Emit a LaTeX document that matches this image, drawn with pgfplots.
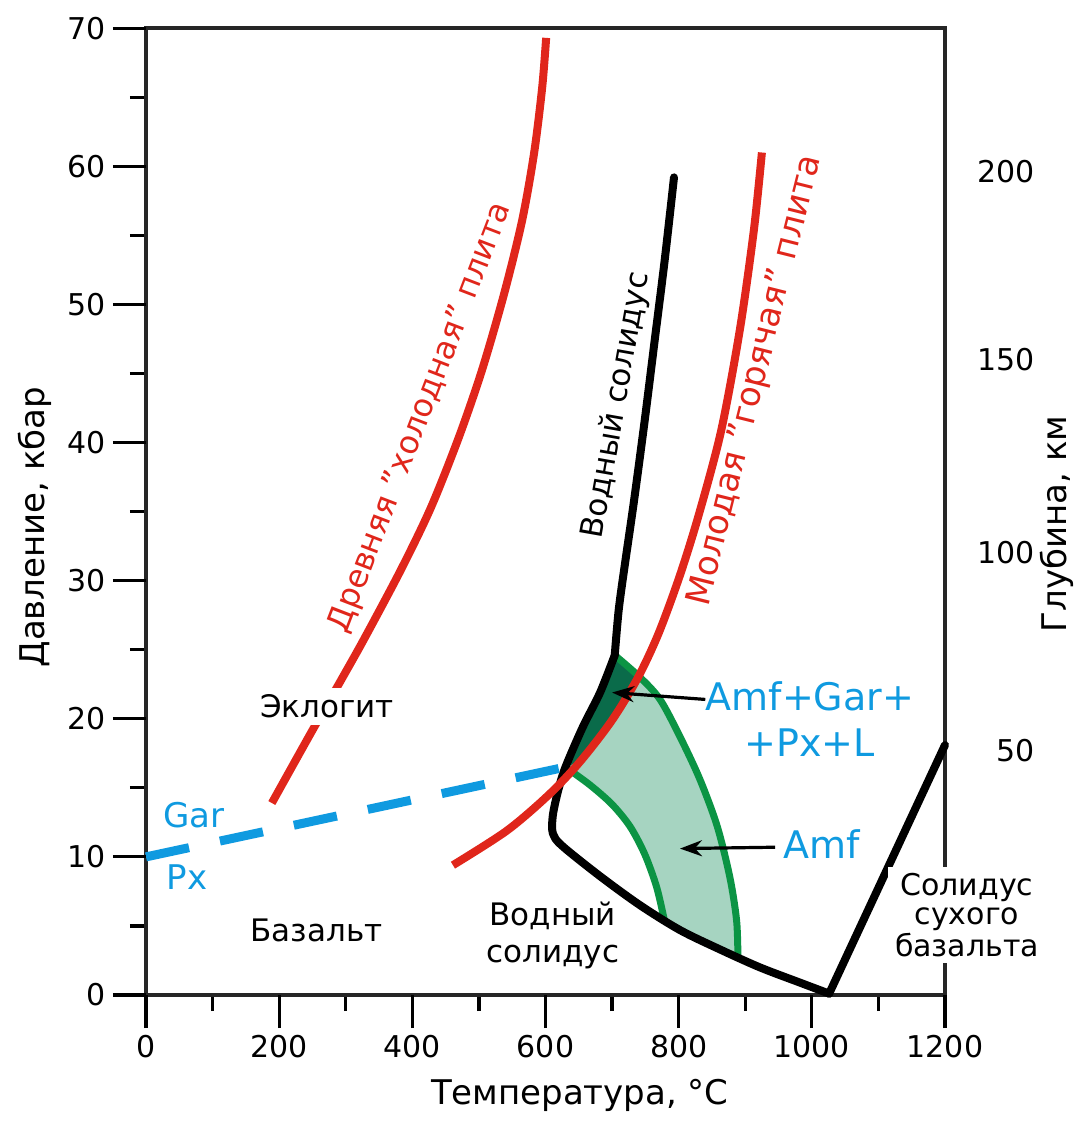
\documentclass[border=0pt]{standalone}
\usepackage{fontspec}
\setmainfont{DejaVu Sans}
\usepackage{pgfplots}
\pgfplotsset{compat=1.18}
\usetikzlibrary{arrows.meta}

\definecolor{plate}{HTML}{E0261B}
\definecolor{phase}{HTML}{0F9AE0}
\definecolor{amfline}{HTML}{0B9444}
\definecolor{amfdark}{HTML}{0A6B4A}
\definecolor{amflight}{HTML}{A6D4C1}

\newcommand{\txt}{\fontsize{15.5}{18.5}\selectfont}

\begin{document}
\begin{tikzpicture}
\useasboundingbox (-73pt,-65.5pt) rectangle (467pt,497.5pt);
\begin{axis}[
  at={(0pt,0pt)}, anchor=south west,
  scale only axis, width=399.5pt, height=483.4pt,
  xmin=0, xmax=1200, ymin=0, ymax=70,
  xtick={0,200,400,600,800,1000,1200}, ytick={0,10,20,30,40,50,60,70},
  minor x tick num=1, minor y tick num=1,
  tick pos=left, tick align=outside,
  major tick length=16.5pt, minor tick length=8pt,
  major tick style={black, line width=1.6pt},
  minor tick style={black, line width=1.6pt},
  axis line style={line width=1.8pt, black!85},
  tick label style={font=\fontsize{15}{18}\selectfont},
  /pgf/number format/assume math mode=true,
  /pgf/number format/1000 sep={},
  clip=false,
  xlabel={Температура, °C},
  ylabel={Давление, кбар},
  label style={font=\fontsize{17}{20}\selectfont},
  xlabel style={at={(axis description cs:0.543,-0.1034)}, anchor=center},
  ylabel style={at={(axis description cs:-0.139,0.484)}, anchor=center},
]

% amphibole field: light part
\addplot[draw=none, fill=amflight] coordinates {
  (630,16.5) (652,16.9) (700,19.9) (739,23.0) (772,21.4) (802,18.7)
  (832,15.6) (858,12.2) (877,8.5) (887,5.4) (889,2.8) (862,3.3)
  (802,4.7) (779,5.3) (767,7.8) (749,10.2) (727,12.2) (700,13.8) (667,15.2)
} -- cycle;
% amphibole + garnet + pyroxene + melt
\addplot[draw=none, fill=amfdark] coordinates {
  (704,24.6) (682,21.9) (656,19.4) (630,16.5) (652,16.9) (700,19.9) (739,23.0)
} -- cycle;

% amphibole boundaries
\addplot[amfline, line width=3.5pt, smooth] coordinates {
  (704,24.6) (742,23.0) (772,21.4) (802,18.7) (832,15.6) (858,12.2)
  (877,8.5) (887,5.4) (889,2.8)
};
\addplot[amfline, line width=3.5pt, smooth] coordinates {
  (630,16.5) (667,15.2) (700,13.8) (727,12.2) (749,10.2) (767,7.8) (779,5.3)
};

% wet solidus
\addplot[black, line width=4pt, smooth, line cap=round] coordinates {
  (793,59.2) (779,53.2) (764,47.4) (749,41.6) (733,35.8) (719,31.1)
  (710,27.9) (704,24.6)
};
\addplot[black, line width=4pt, smooth, line cap=round, line join=round] coordinates {
  (704,24.6) (682,21.9) (656,19.4) (630,16.5) (619,14.8) (611,13.0)
  (611,11.7) (625,10.8) (682,8.6) (742,6.5) (802,4.7) (862,3.3)
  (922,2.0) (982,0.9) (1026,0.1)
};
% dry basalt solidus
\addplot[black, line width=4pt, line cap=round] coordinates {
  (1026,0.1) (1200,18.1)
};

% garnet-in reaction
\addplot[phase, line width=4.5pt, dash pattern=on 22pt off 15.8pt] coordinates {
  (0,10) (630,16.5)
};

% slab geotherms
\addplot[plate, line width=4pt, smooth] coordinates {
  (189,13.9) (248,19.0) (293,22.8) (329,25.9) (383,30.8) (428,35.3)
  (470,40.4) (505,45.3) (538,50.8) (565,56.1) (583,61.0) (595,65.7) (601,69.3)
};
\addplot[plate, line width=4pt, smooth] coordinates {
  (461,9.4) (542,11.9) (605,14.5) (652,16.9) (700,19.9) (739,23.0)
  (770,26.2) (802,30.4) (831,34.9) (864,40.9) (892,48.2) (913,55.4) (925,61.0)
};

% long outward marks at the labelled values (16.5pt below / left of the frame)
\pgfplotsinvokeforeach{0,200,400,600,800,1000,1200}{
  \addplot[black, line width=1.6pt, forget plot] coordinates {(#1,0) (#1,-2.389)};
}
\pgfplotsinvokeforeach{0,10,20,30,40,50,60,70}{
  \addplot[black, line width=1.6pt, forget plot] coordinates {(0,#1) (-49.56,#1)};
}

% annotations
\node[font=\txt, fill=white] at (axis cs:272,20.9) {Эклогит};
\node[font=\txt] at (axis cs:256,4.7) {Базальт};
\node[font=\txt, align=center] at (axis cs:611,4.3) {Водный\\солидус};
\node[font=\txt, rotate=80] at (axis cs:707,42.7) {Водный солидус};
\node[font=\fontsize{16}{19}\selectfont, text=plate, rotate=69]
  at (axis cs:413,41.8) {Древняя "холодная" плита};
\node[font=\fontsize{17}{20}\selectfont, text=plate, rotate=76]
  at (axis cs:916,44.5) {Молодая "горячая" плита};
\node[font=\fontsize{17}{20}\selectfont, text=phase] at (axis cs:72,13.0) {Gar};
\node[font=\fontsize{17}{20}\selectfont, text=phase] at (axis cs:62,8.5) {Px};
\node[font=\fontsize{19}{23}\selectfont, text=phase, align=center]
  at (axis cs:997,20.0) {Amf+Gar+\\+Px+L};
\node[font=\fontsize{19}{22}\selectfont, text=phase] at (axis cs:1015,10.9) {Amf};
\draw[-{Stealth[length=11pt,width=8pt]}, line width=1.6pt]
  (axis cs:840,21.4) -- (axis cs:700,21.9);
\draw[-{Stealth[length=11pt,width=8pt]}, line width=1.6pt]
  (axis cs:945,10.7) -- (axis cs:802,10.6);
\node[font=\fontsize{17}{20}\selectfont, rotate=90] at (axis cs:1368,34.1) {Глубина, км};
\coordinate (dry) at (axis cs:1233,5.8);
\end{axis}

% depth scale
\begin{axis}[
  at={(0pt,0pt)}, anchor=south west,
  scale only axis, width=399.5pt, height=483.4pt,
  xmin=0, xmax=1200, ymin=0, ymax=70,
  hide x axis, axis y line*=right,
  y axis line style={draw=none},
  ytick={17.7,32.0,46.0,59.6}, yticklabels={50,100,150,200},
  tick align=inside, ytick style={draw=none},
  yticklabel style={anchor=east, xshift=48.5pt, font=\fontsize{15}{18}\selectfont},
]
\end{axis}

\node[font=\fontsize{15}{14.5}\selectfont, fill=white, align=center] at (dry)
  {Солидус\\сухого\\базальта};
\end{tikzpicture}
\end{document}
